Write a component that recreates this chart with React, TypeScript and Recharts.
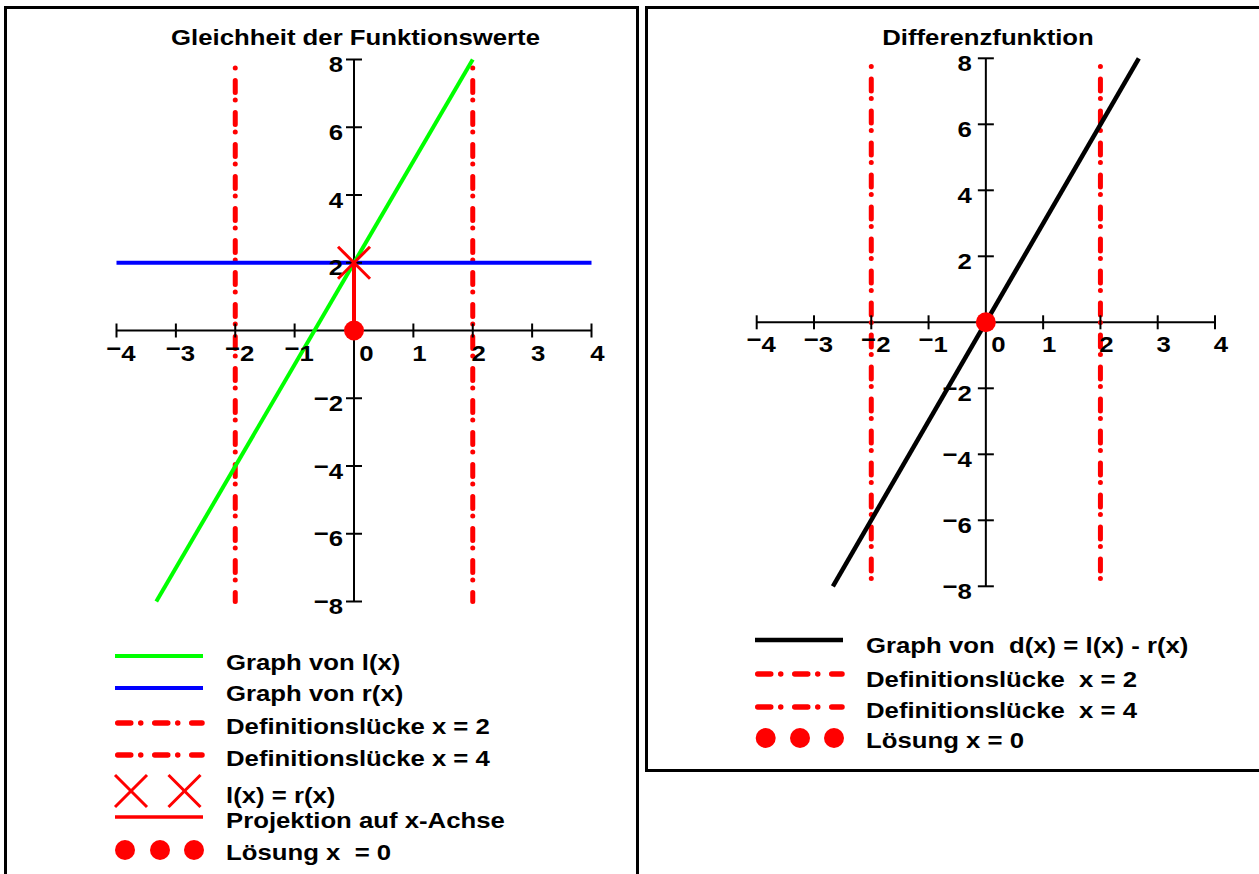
import React from 'react';
import { ComposedChart, Line, Scatter, XAxis, YAxis, ReferenceLine } from 'recharts';

const FONT = '"Liberation Sans", Arial, Helvetica, sans-serif';
const FS = 22;
const SX = 1.17; // the source text is drawn horizontally stretched
const RED = '#ff0000';

// ticks, same for both panels
const xTicks = [-4, -3, -2, -1, 0, 1, 2, 3, 4];
const yTicks = [-8, -6, -4, -2, 2, 4, 6, 8];

// left panel: l(x) and r(x)
const lGraph = [{ x: -3.33, y: -8 }, { x: 2, y: 8 }];
const rGraph = [{ x: -4, y: 2 }, { x: 4, y: 2 }];
const gapA = [{ x: -2, y: 7.75 }, { x: -2, y: -8 }];
const gapB = [{ x: 2, y: 7.75 }, { x: 2, y: -8 }];
const equalPoint = [{ x: 0, y: 2 }];
const projection = [{ x: 0, y: 2 }, { x: 0, y: 0 }];
const solution = [{ x: 0, y: 0 }];

// right panel: d(x) = l(x) - r(x)
const dGraph = [{ x: -2.67, y: -8 }, { x: 2.67, y: 8 }];

const titles = ['Gleichheit der Funktionswerte', 'Differenzfunktion'];
const leftLegend = [
  'Graph von l(x)',
  'Graph von r(x)',
  'Definitionslücke x = 2',
  'Definitionslücke x = 4',
  'l(x) = r(x)',
  'Projektion auf x-Achse',
  'Lösung x  = 0',
];
const rightLegend = [
  'Graph von  d(x) = l(x) - r(x)',
  'Definitionslücke  x = 2',
  'Definitionslücke  x = 4',
  'Lösung x = 0',
];

const xTickPts = xTicks.map((x) => ({ x, y: 0 }));
const yTickPts = yTicks.map((y) => ({ x: 0, y }));

function Txt({ x, y, anchor = 'start', children }: any) {
  return (
    <text
      transform={`translate(${x},${y}) scale(${SX},1)`}
      textAnchor={anchor}
      fontFamily={FONT}
      fontWeight="bold"
      fontSize={FS}
      fill="#000"
      style={{ whiteSpace: 'pre' }}
    >
      {children}
    </text>
  );
}

// raised minus like in the original
const num = (v: number) =>
  v >= 0
    ? String(v)
    : [
        <tspan key="m" dy={-5}>−</tspan>,
        <tspan key="d" dy={5}>{-v}</tspan>,
      ];

const XTick = (p: any) => {
  const v = p.payload.x;
  const dx = v === 0 ? 12.5 : v < 0 ? 4.5 : 6;
  return (
    <g>
      <line x1={p.cx} x2={p.cx} y1={p.cy - 7} y2={p.cy + 7} stroke="#000" strokeWidth={2} />
      <Txt x={p.cx + dx} y={p.cy + 30} anchor="middle">{num(v)}</Txt>
    </g>
  );
};

const yTick = (gap: number) => (p: any) => {
  const v = p.payload.y;
  return (
    <g>
      <line x1={p.cx - 8} x2={p.cx + 8} y1={p.cy} y2={p.cy} stroke="#000" strokeWidth={2} />
      <Txt x={p.cx - gap} y={p.cy + 12.5} anchor="end">{num(v)}</Txt>
    </g>
  );
};

const Cross = (p: any) => (
  <g stroke={RED} strokeWidth={3}>
    <line x1={p.cx - 16} y1={p.cy - 16} x2={p.cx + 16} y2={p.cy + 16} />
    <line x1={p.cx - 16} y1={p.cy + 16} x2={p.cx + 16} y2={p.cy - 16} />
  </g>
);

const Dot = (p: any) => <circle cx={p.cx} cy={p.cy} r={10} fill={RED} />;

const dashDot = {
  stroke: RED,
  strokeWidth: 5,
  strokeDasharray: '0 12.5 12 7.5',
  strokeLinecap: 'round' as const,
};

function EqualityChart() {
  return (
    <ComposedChart width={640} height={640} margin={{ top: 59.5, right: 48.5, bottom: 38.5, left: 116.5 }}>
      <XAxis type="number" dataKey="x" domain={[-4, 4]} hide />
      <YAxis type="number" dataKey="y" domain={[-8, 8]} hide />
      <ReferenceLine x={0} stroke="#000" strokeWidth={2} />
      <ReferenceLine y={0} stroke="#000" strokeWidth={2} />
      <Scatter data={xTickPts} shape={XTick} isAnimationActive={false} />
      <Scatter data={yTickPts} shape={yTick(11)} isAnimationActive={false} />
      <Line data={gapA} dataKey="y" {...dashDot} dot={false} activeDot={false} isAnimationActive={false} />
      <Line data={gapB} dataKey="y" {...dashDot} dot={false} activeDot={false} isAnimationActive={false} />
      <Line data={lGraph} dataKey="y" stroke="#00ff00" strokeWidth={4} dot={false} activeDot={false} isAnimationActive={false} />
      <Line data={rGraph} dataKey="y" stroke="#0000ff" strokeWidth={4} dot={false} activeDot={false} isAnimationActive={false} />
      <Line data={projection} dataKey="y" stroke={RED} strokeWidth={4} dot={false} activeDot={false} isAnimationActive={false} />
      <Scatter data={equalPoint} shape={Cross} isAnimationActive={false} />
      <Scatter data={solution} shape={Dot} isAnimationActive={false} />
    </ComposedChart>
  );
}

function DifferenceChart() {
  return (
    <ComposedChart width={619} height={620} margin={{ top: 58.3, right: 44, bottom: 33.7, left: 116.7 }}>
      <XAxis type="number" dataKey="x" domain={[-4, 4]} hide />
      <YAxis type="number" dataKey="y" domain={[-8, 8]} hide />
      <ReferenceLine x={0} stroke="#000" strokeWidth={2} />
      <ReferenceLine y={0} stroke="#000" strokeWidth={2} />
      <Scatter data={xTickPts} shape={XTick} isAnimationActive={false} />
      <Scatter data={yTickPts} shape={yTick(14)} isAnimationActive={false} />
      <Line data={gapA} dataKey="y" {...dashDot} dot={false} activeDot={false} isAnimationActive={false} />
      <Line data={gapB} dataKey="y" {...dashDot} dot={false} activeDot={false} isAnimationActive={false} />
      <Line data={dGraph} dataKey="y" stroke="#000" strokeWidth={4.5} dot={false} activeDot={false} isAnimationActive={false} />
      <Scatter data={solution} shape={Dot} isAnimationActive={false} />
    </ComposedChart>
  );
}

const legendDash = { stroke: RED, strokeWidth: 5.5, strokeDasharray: '13 10 0 14', strokeLinecap: 'round' as const };

function Decor() {
  // left legend rows (marker y, text baseline)
  const L = [656, 688, 723, 755, 791, 817, 850];
  const LT = [670, 701, 734, 766, 803, 828, 860];
  const R = [640, 674, 707, 738];
  const RT = [653, 687, 718, 748];
  return (
    <svg width={1259} height={874} style={{ position: 'absolute', left: 0, top: 0 }}>
      <Txt x={355.5} y={45} anchor="middle">{titles[0]}</Txt>
      <Txt x={988} y={45} anchor="middle">{titles[1]}</Txt>

      <line x1={115} x2={203} y1={L[0]} y2={L[0]} stroke="#00ff00" strokeWidth={4} />
      <line x1={115} x2={203} y1={L[1]} y2={L[1]} stroke="#0000ff" strokeWidth={4} />
      <line x1={117.75} x2={202} y1={L[2]} y2={L[2]} {...legendDash} />
      <line x1={117.75} x2={202} y1={L[3]} y2={L[3]} {...legendDash} />
      {[131, 184.5].map((cx) => (
        <Cross key={cx} cx={cx} cy={L[4]} />
      ))}
      <line x1={115} x2={203} y1={L[5]} y2={L[5]} stroke={RED} strokeWidth={3.5} />
      {[125, 160, 194].map((cx) => (
        <circle key={cx} cx={cx} cy={L[6]} r={10} fill={RED} />
      ))}
      {leftLegend.map((t, i) => (
        <Txt key={t} x={226} y={LT[i]}>{t}</Txt>
      ))}

      <line x1={755} x2={843} y1={R[0]} y2={R[0]} stroke="#000" strokeWidth={4.5} />
      <line x1={757.75} x2={842} y1={R[1]} y2={R[1]} {...legendDash} />
      <line x1={757.75} x2={842} y1={R[2]} y2={R[2]} {...legendDash} />
      {[765.7, 800, 834].map((cx) => (
        <circle key={cx} cx={cx} cy={R[3]} r={10} fill={RED} />
      ))}
      {rightLegend.map((t, i) => (
        <Txt key={t} x={866} y={RT[i]}>{t}</Txt>
      ))}
    </svg>
  );
}

export default function App() {
  return (
    <div style={{ position: 'absolute', left: 0, top: 0, width: 1259, height: 874, overflow: 'hidden', background: '#fff' }}>
      <div style={{ position: 'absolute', left: 4, top: 6, width: 635, height: 900, border: '3px solid #000', boxSizing: 'border-box' }} />
      <div style={{ position: 'absolute', left: 645, top: 6, width: 700, height: 766, border: '3px solid #000', boxSizing: 'border-box' }} />
      <Decor />
      <div style={{ position: 'absolute', left: 0, top: 0 }}>
        <EqualityChart />
      </div>
      <div style={{ position: 'absolute', left: 640, top: 0 }}>
        <DifferenceChart />
      </div>
    </div>
  );
}
